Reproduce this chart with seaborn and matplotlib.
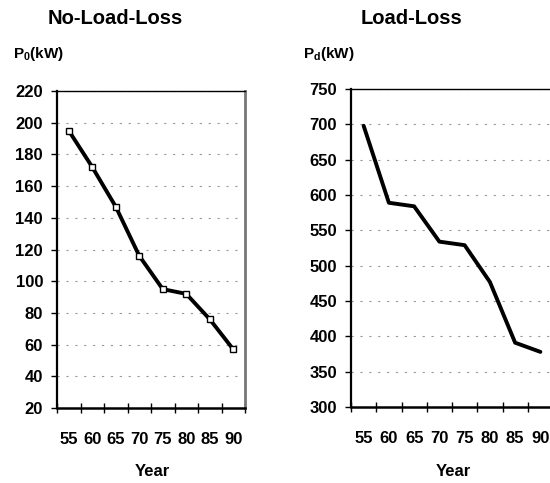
import matplotlib
matplotlib.use("Agg")
import matplotlib.pyplot as plt
import numpy as np
import pandas as pd
import seaborn as sns

# data
years = [55, 60, 65, 70, 75, 80, 85, 90]
no_load_loss = [195, 172, 147, 116, 95, 92, 76, 57]
load_loss = [698, 589, 584, 534, 529, 477, 391, 378]

no_load_ticks = [20, 40, 60, 80, 100, 120, 140, 160, 180, 200, 220]
load_ticks = [300, 350, 400, 450, 500, 550, 600, 650, 700, 750]

sns.set_theme(style="white")
plt.rcParams["font.family"] = ["Liberation Sans", "DejaVu Sans"]
plt.rcParams["font.weight"] = "bold"
plt.rcParams["text.color"] = "black"
plt.rcParams["xtick.color"] = "black"
plt.rcParams["ytick.color"] = "black"
plt.rcParams["mathtext.fontset"] = "custom"
plt.rcParams["mathtext.rm"] = "Liberation Sans:bold"
plt.rcParams["mathtext.it"] = "Liberation Sans:bold"
plt.rcParams["mathtext.default"] = "rm"

W, H = 550, 483
fig = plt.figure(figsize=(W / 100, H / 100), dpi=100)


def px_axes(x0, x1, ytop, ybot):
    return fig.add_axes([x0 / W, 1 - ybot / H, (x1 - x0) / W, (ybot - ytop) / H])


ax1 = px_axes(57, 245, 91, 408)
ax2 = px_axes(351, 553, 89, 407)

df1 = pd.DataFrame({"year": years, "loss": no_load_loss})
df2 = pd.DataFrame({"year": years, "loss": load_loss})

sns.lineplot(data=df1, x="year", y="loss", ax=ax1, color="black", linewidth=2.8,
             marker="s", markersize=4, markerfacecolor="white",
             markeredgecolor="black", markeredgewidth=1.0)
sns.lineplot(data=df2, x="year", y="loss", ax=ax2, color="black", linewidth=2.8)

for ax, ticks in [(ax1, no_load_ticks), (ax2, load_ticks)]:
    ax.set_xlim(years[0] - 2.5, years[-1] + 2.5)
    ax.set_ylim(ticks[0], ticks[-1])
    ax.set_yticks(ticks)
    ax.set_xticks(years)
    ax.set_xticklabels([str(y) for y in years])
    ax.set_xticks([y - 2.5 for y in years] + [years[-1] + 2.5], minor=True)
    ax.tick_params(axis="x", which="major", length=0, pad=17, labelsize=12,
                   labelcolor="black")
    ax.tick_params(axis="x", which="minor", direction="inout", length=7,
                   width=1.0, color="black", bottom=True)
    ax.tick_params(axis="y", which="major", direction="out", length=4,
                   width=1.0, color="black", left=True, pad=6, labelsize=12,
                   labelcolor="black")
    for lab in ax.get_xticklabels() + ax.get_yticklabels():
        lab.set_fontweight("bold")
    ax.yaxis.grid(True, linestyle=(0, (2, 6)), color="#999999", linewidth=0.8)
    ax.xaxis.grid(False)
    ax.set_xlabel("")
    ax.set_ylabel("")
    ax.spines["left"].set_color("black")
    ax.spines["left"].set_linewidth(1.6)
    ax.spines["bottom"].set_color("black")
    ax.spines["bottom"].set_linewidth(1.8)
    ax.spines["top"].set_color("black")
    ax.spines["top"].set_linewidth(1.0)
    ax.spines["right"].set_color("#777777")
    ax.spines["right"].set_linewidth(2.0)

fig.text(115 / W, 1 - 19 / H, "No-Load-Loss", ha="center", va="center",
         fontsize=14.5, fontweight="bold", color="black")
fig.text(412 / W, 1 - 19 / H, "Load-Loss", ha="center", va="center",
         fontsize=14.5, fontweight="bold", color="black")
fig.text(13 / W, 1 - 54 / H, r"P$_0$(kW)", ha="left", va="center",
         fontsize=11, fontweight="bold", color="black")
fig.text(303 / W, 1 - 54 / H, r"P$_d$(kW)", ha="left", va="center",
         fontsize=11, fontweight="bold", color="black")
fig.text(152 / W, 1 - 472 / H, "Year", ha="center", va="center",
         fontsize=12, fontweight="bold", color="black")
fig.text(453 / W, 1 - 472 / H, "Year", ha="center", va="center",
         fontsize=12, fontweight="bold", color="black")

fig.savefig("out.png", dpi=100)
